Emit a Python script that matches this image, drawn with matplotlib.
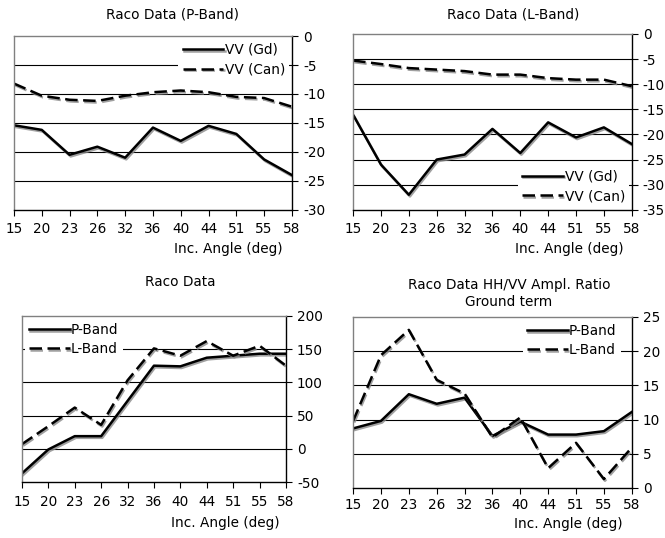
import matplotlib
matplotlib.use("Agg")
import matplotlib.pyplot as plt
import matplotlib.patheffects as pe

angles = ["15", "20", "23", "26", "32", "36", "40", "44", "51", "55", "58"]

# Raco P-Band
p_vv_gd = [-15.4, -16.2, -20.5, -19.1, -21.0, -15.8, -18.1, -15.5, -16.9, -21.3, -24.0]
p_vv_can = [-8.2, -10.3, -11.0, -11.2, -10.3, -9.7, -9.4, -9.7, -10.5, -10.7, -12.2]

# Raco L-Band
l_vv_gd = [-16.1, -26.0, -32.0, -25.0, -24.0, -18.9, -23.7, -17.6, -20.6, -18.6, -21.9]
l_vv_can = [-5.3, -6.0, -6.8, -7.1, -7.4, -8.1, -8.1, -8.8, -9.1, -9.1, -10.4]

# Raco Data
raco_p = [-37, -1, 19, 19, 72, 125, 124, 137, 140, 143, 143]
raco_l = [7, 34, 62, 36, 103, 151, 140, 162, 140, 155, 125]

# HH/VV amplitude ratio, ground term
ratio_p = [8.7, 9.8, 13.7, 12.3, 13.2, 7.6, 9.7, 7.8, 7.8, 8.3, 11.1]
ratio_l = [9.8, 19.4, 23.1, 15.8, 13.8, 7.4, 10.3, 2.9, 6.6, 1.3, 5.9]

FS = 9.8
shadow = [pe.SimpleLineShadow(offset=(0.8, -1.2), shadow_color="#888888", alpha=0.8), pe.Normal()]

fig = plt.figure(figsize=(6.65, 5.38), dpi=100)


def panel(rect, s1, s2, lab1, lab2, ylim, yticks, legloc, anchor=None, xpad=5):
    ax = fig.add_axes(rect)
    x = range(len(angles))
    ax.plot(x, s1, color="black", lw=1.8, label=lab1, path_effects=shadow)
    ax.plot(x, s2, color="black", lw=1.8, label=lab2, dashes=(5, 2.2), path_effects=shadow)
    ax.set_xlim(0, len(angles) - 1)
    ax.set_ylim(*ylim)
    ax.set_xticks(list(x))
    ax.set_xticklabels(angles, fontsize=FS)
    ax.set_yticks(yticks)
    ax.set_yticklabels([str(t) for t in yticks], fontsize=FS)
    ax.yaxis.tick_right()
    ax.tick_params(axis="both", direction="out", length=4, width=0.8, color="black", pad=4)
    ax.tick_params(axis="x", pad=xpad)
    for t in yticks[1:-1]:
        ax.axhline(t, color="black", lw=0.8, zorder=0)
    ax.spines["left"].set_color("#808080")
    ax.spines["top"].set_color("#808080")
    ax.spines["right"].set_color("black")
    ax.spines["bottom"].set_color("black")
    for s in ax.spines.values():
        s.set_linewidth(1.0)
    leg = ax.legend(loc=legloc, bbox_to_anchor=anchor, fontsize=FS, handlelength=3.0,
                    handletextpad=0.1, labelspacing=0.4, frameon=True, borderpad=0.3,
                    borderaxespad=0.2)
    leg.get_frame().set_facecolor("white")
    leg.get_frame().set_edgecolor("none")
    leg.get_frame().set_alpha(1)
    return ax


panel([0.021, 0.610, 0.418, 0.323], p_vv_gd, p_vv_can, "VV (Gd)", "VV (Can)",
      (-30, 0), [-30, -25, -20, -15, -10, -5, 0], "upper right")
panel([0.531, 0.610, 0.419, 0.327], l_vv_gd, l_vv_can, "VV (Gd)", "VV (Can)",
      (-35, 0), [-35, -30, -25, -20, -15, -10, -5, 0], "lower right")
panel([0.033, 0.104, 0.397, 0.309], raco_p, raco_l, "P-Band", "L-Band",
      (-50, 200), [-50, 0, 50, 100, 150, 200], "upper left")
panel([0.531, 0.093, 0.419, 0.318], ratio_p, ratio_l, "P-Band", "L-Band",
      (0, 25), [0, 5, 10, 15, 20, 25], "upper right", anchor=(0.97, 1.0), xpad=3)

W, H = 665, 538


def ftext(x, y, s):
    fig.text(x / W, 1 - y / H, s, ha="center", va="center", fontsize=FS)


ftext(173, 14, "Raco Data (P-Band)")
ftext(513, 14, "Raco Data (L-Band)")
ftext(180, 282, "Raco Data")
ftext(509, 285, "Raco Data HH/VV Ampl. Ratio")
ftext(509, 302, "Ground term")
ftext(228, 249, "Inc. Angle (deg)")
ftext(569, 249, "Inc. Angle (deg)")
ftext(225, 523, "Inc. Angle (deg)")
ftext(568, 524, "Inc. Angle (deg)")

fig.savefig("out.png", dpi=100)
